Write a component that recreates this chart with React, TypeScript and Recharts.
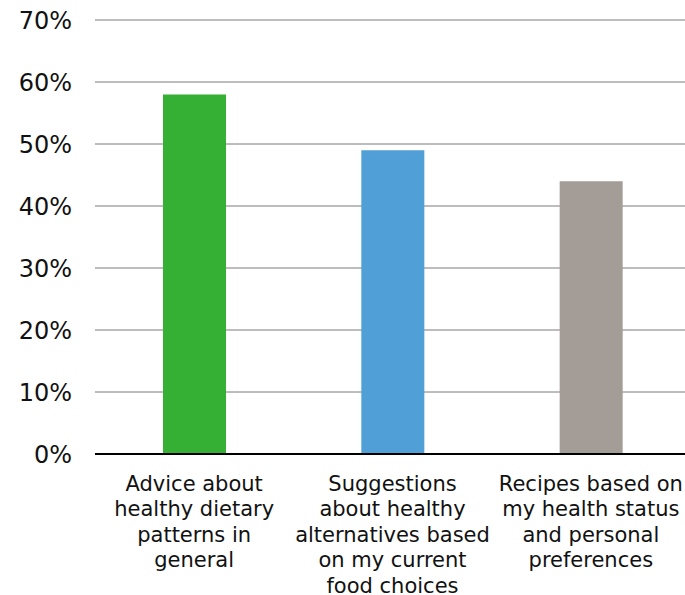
import React from "react";
import { BarChart, Bar, XAxis, YAxis, CartesianGrid, Cell } from "recharts";

// share of respondents interested in each kind of personalised advice
const categories = [
  "Advice about healthy dietary patterns in general",
  "Suggestions about healthy alternatives based on my current food choices",
  "Recipes based on my health status and personal preferences",
];
const categoryLines = [
  ["Advice about", "healthy dietary", "patterns in", "general"],
  ["Suggestions", "about healthy", "alternatives based", "on my current", "food choices"],
  ["Recipes based on", "my health status", "and personal", "preferences"],
];
const shares = [58, 49, 44];
const barColors = ["#35b035", "#509fd6", "#a49c97"];
const yTicks = [0, 10, 20, 30, 40, 50, 60, 70];

const data = categories.map((name, i) => ({ name, value: shares[i] }));

const FONT = "'DejaVu Sans', Verdana, sans-serif";

const CategoryTick = ({ x, y, payload }) => {
  const idx = categories.indexOf(payload.value);
  const lines = categoryLines[idx] || [payload.value];
  return (
    <text x={x} y={y} textAnchor="middle" fill="#111" fontSize={21} fontFamily={FONT}>
      {lines.map((line, i) => (
        <tspan key={i} x={x} dy={i === 0 ? 36.5 : 25.5}>
          {line}
        </tspan>
      ))}
    </text>
  );
};

export default function App() {
  return (
    <div
      style={{
        position: "absolute",
        left: 0,
        top: 0,
        width: 685,
        height: 595,
        overflow: "hidden",
        background: "#fff",
      }}
    >
      <BarChart
        width={690}
        height={595}
        data={data}
        margin={{ top: 20, right: 0, left: 0, bottom: 0 }}
        barCategoryGap={0}
      >
        <CartesianGrid vertical={false} stroke="#7a7a7a" strokeWidth={1} />
        <XAxis
          dataKey="name"
          interval={0}
          height={141}
          tickLine={false}
          tickSize={0}
          tickMargin={0}
          axisLine={{ stroke: "#000", strokeWidth: 2 }}
          tick={<CategoryTick />}
        />
        <YAxis
          width={95}
          domain={[0, 70]}
          ticks={yTicks}
          interval={0}
          axisLine={false}
          tickLine={false}
          tickSize={0}
          tickMargin={23}
          tickFormatter={(v) => `${v}%`}
          tick={{ fill: "#111", fontSize: 24, fontFamily: FONT }}
        />
        <Bar dataKey="value" barSize={63} isAnimationActive={false}>
          {data.map((d, i) => (
            <Cell key={d.name} fill={barColors[i]} />
          ))}
        </Bar>
      </BarChart>
    </div>
  );
}
